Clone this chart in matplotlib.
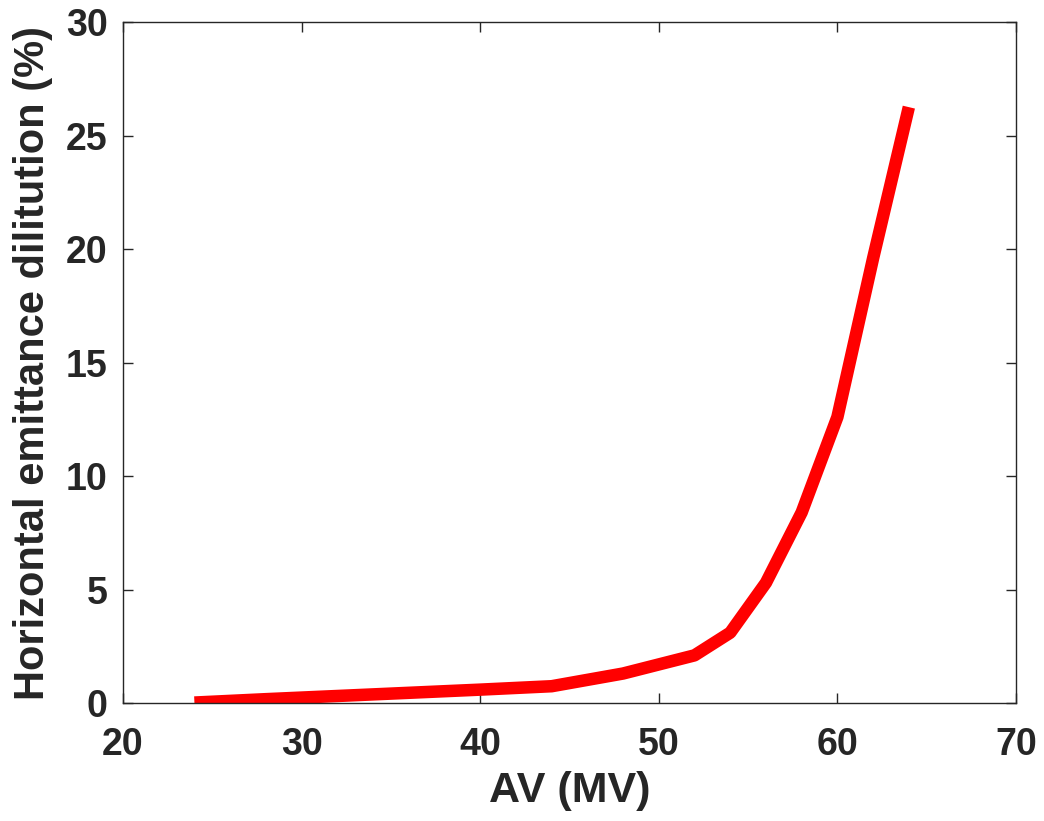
import numpy as np
import matplotlib.pyplot as plt

# accelerating voltage vs horizontal emittance dilution
av_mv = [24, 28, 32, 36, 40, 44, 48, 52, 54, 56, 58, 60, 62, 64]
dilution = [0.02, 0.17, 0.31, 0.45, 0.59, 0.74, 1.3, 2.1, 3.1, 5.3, 8.4, 12.6, 19.6, 26.25]

xticks = [20, 30, 40, 50, 60, 70]
yticks = [0, 5, 10, 15, 20, 25, 30]

plt.rcParams['font.family'] = ['Liberation Sans', 'DejaVu Sans']
plt.rcParams['font.weight'] = 'bold'

fig = plt.figure(figsize=(10.44, 8.21), dpi=100)
ax = fig.add_axes([0.1178, 0.1437, 0.8554, 0.8295])
ax.plot(av_mv, dilution, color='#ff0000', lw=9, solid_capstyle='butt')

ax.set_xlim(20, 70)
ax.set_ylim(0, 30)
ax.set_xticks(xticks)
ax.set_yticks(yticks)
ax.tick_params(direction='in', length=7, width=1, top=True, right=True,
               labelsize=27, colors='#262626')
ax.tick_params(axis='x', pad=17)
ax.tick_params(axis='y', pad=11)
for lbl in ax.get_xticklabels() + ax.get_yticklabels():
    lbl.set_fontweight('bold')
for sp_ in ax.spines.values():
    sp_.set_color('#262626')
    sp_.set_linewidth(1.0)

ax.set_xlabel('AV (MV)', fontsize=31, fontweight='bold', color='#262626', labelpad=6)
ax.set_ylabel('Horizontal emittance dilitution (%)', fontsize=30, fontweight='bold',
              color='#262626', labelpad=9)

fig.savefig('out.png', dpi=100)
